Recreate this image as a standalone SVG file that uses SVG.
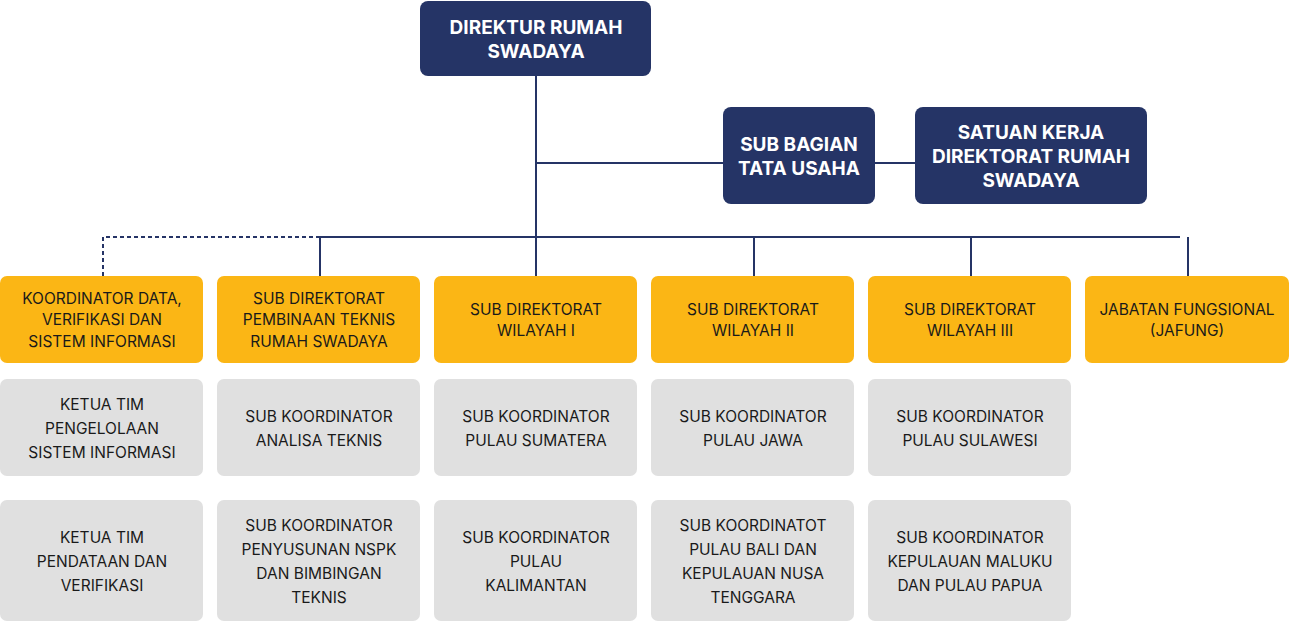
<svg xmlns="http://www.w3.org/2000/svg" width="1289" height="622" viewBox="0 0 1289 622">
<style>
.n{fill:#253466}.y{fill:#FBB615}.g{fill:#E0E0E0}
text{font-family:Inter,"Noto Sans",sans-serif;text-anchor:middle}
.tn{fill:#fff;font-weight:700;font-size:19px}
.ty{fill:#1a1a1a;font-size:15.5px}
.c{stroke:#253466;stroke-width:2;fill:none}
</style>
<rect width="1289" height="622" fill="#fff"/>
<g id="connectors">
<path class="c" d="M536 76V276M536 163H915M320 237H1180M320 237V276M754 237V276M971 237V276M1188 237V276"/>
<path class="c" d="M320 237H103V276" stroke-dasharray="4 3"/>
</g>
<g id="direktur"><rect class="n" x="420" y="1" width="231" height="75" rx="8"/><text class="tn" x="536" y="34">DIREKTUR RUMAH</text><text class="tn" x="536" y="58">SWADAYA</text></g>
<g id="subbagian"><rect class="n" x="723" y="107" width="152" height="97" rx="8"/><text class="tn" x="799" y="151">SUB BAGIAN</text><text class="tn" x="799" y="175">TATA USAHA</text></g>
<g id="satuan"><rect class="n" x="915" y="107" width="232" height="97" rx="8"/><text class="tn" x="1031" y="139">SATUAN KERJA</text><text class="tn" x="1031" y="163">DIREKTORAT RUMAH</text><text class="tn" x="1031" y="187">SWADAYA</text></g>
<g id="koordinator"><rect class="y" x="0" y="276" width="203" height="87" rx="7"/><text class="ty" x="102" y="304">KOORDINATOR DATA,</text><text class="ty" x="102" y="325">VERIFIKASI DAN</text><text class="ty" x="102" y="347">SISTEM INFORMASI</text></g>
<g id="subdit-pembinaan"><rect class="y" x="217" y="276" width="203" height="87" rx="7"/><text class="ty" x="319" y="304">SUB DIREKTORAT</text><text class="ty" x="319" y="325">PEMBINAAN TEKNIS</text><text class="ty" x="319" y="347">RUMAH SWADAYA</text></g>
<g id="subdit-1"><rect class="y" x="434" y="276" width="203" height="87" rx="7"/><text class="ty" x="536" y="315">SUB DIREKTORAT</text><text class="ty" x="536" y="336">WILAYAH I</text></g>
<g id="subdit-2"><rect class="y" x="651" y="276" width="203" height="87" rx="7"/><text class="ty" x="753" y="315">SUB DIREKTORAT</text><text class="ty" x="753" y="336">WILAYAH II</text></g>
<g id="subdit-3"><rect class="y" x="868" y="276" width="203" height="87" rx="7"/><text class="ty" x="970" y="315">SUB DIREKTORAT</text><text class="ty" x="970" y="336">WILAYAH III</text></g>
<g id="jafung"><rect class="y" x="1085" y="276" width="204" height="87" rx="7"/><text class="ty" x="1187" y="315">JABATAN FUNGSIONAL</text><text class="ty" x="1187" y="336">(JAFUNG)</text></g>
<g id="g1a"><rect class="g" x="0" y="379" width="203" height="97" rx="7"/><text class="ty" x="102" y="410">KETUA TIM</text><text class="ty" x="102" y="434">PENGELOLAAN</text><text class="ty" x="102" y="458">SISTEM INFORMASI</text></g>
<g id="g2a"><rect class="g" x="217" y="379" width="203" height="97" rx="7"/><text class="ty" x="319" y="422">SUB KOORDINATOR</text><text class="ty" x="319" y="446">ANALISA TEKNIS</text></g>
<g id="g3a"><rect class="g" x="434" y="379" width="203" height="97" rx="7"/><text class="ty" x="536" y="422">SUB KOORDINATOR</text><text class="ty" x="536" y="446">PULAU SUMATERA</text></g>
<g id="g4a"><rect class="g" x="651" y="379" width="203" height="97" rx="7"/><text class="ty" x="753" y="422">SUB KOORDINATOR</text><text class="ty" x="753" y="446">PULAU JAWA</text></g>
<g id="g5a"><rect class="g" x="868" y="379" width="203" height="97" rx="7"/><text class="ty" x="970" y="422">SUB KOORDINATOR</text><text class="ty" x="970" y="446">PULAU SULAWESI</text></g>
<g id="g1b"><rect class="g" x="0" y="500" width="203" height="121" rx="7"/><text class="ty" x="102" y="543">KETUA TIM</text><text class="ty" x="102" y="567">PENDATAAN DAN</text><text class="ty" x="102" y="591">VERIFIKASI</text></g>
<g id="g2b"><rect class="g" x="217" y="500" width="203" height="121" rx="7"/><text class="ty" x="319" y="531">SUB KOORDINATOR</text><text class="ty" x="319" y="555">PENYUSUNAN NSPK</text><text class="ty" x="319" y="579">DAN BIMBINGAN</text><text class="ty" x="319" y="603">TEKNIS</text></g>
<g id="g3b"><rect class="g" x="434" y="500" width="203" height="121" rx="7"/><text class="ty" x="536" y="543">SUB KOORDINATOR</text><text class="ty" x="536" y="567">PULAU</text><text class="ty" x="536" y="591">KALIMANTAN</text></g>
<g id="g4b"><rect class="g" x="651" y="500" width="203" height="121" rx="7"/><text class="ty" x="753" y="531">SUB KOORDINATOT</text><text class="ty" x="753" y="555">PULAU BALI DAN</text><text class="ty" x="753" y="579">KEPULAUAN NUSA</text><text class="ty" x="753" y="603">TENGGARA</text></g>
<g id="g5b"><rect class="g" x="868" y="500" width="203" height="121" rx="7"/><text class="ty" x="970" y="543">SUB KOORDINATOR</text><text class="ty" x="970" y="567">KEPULAUAN MALUKU</text><text class="ty" x="970" y="591">DAN PULAU PAPUA</text></g>
</svg>
